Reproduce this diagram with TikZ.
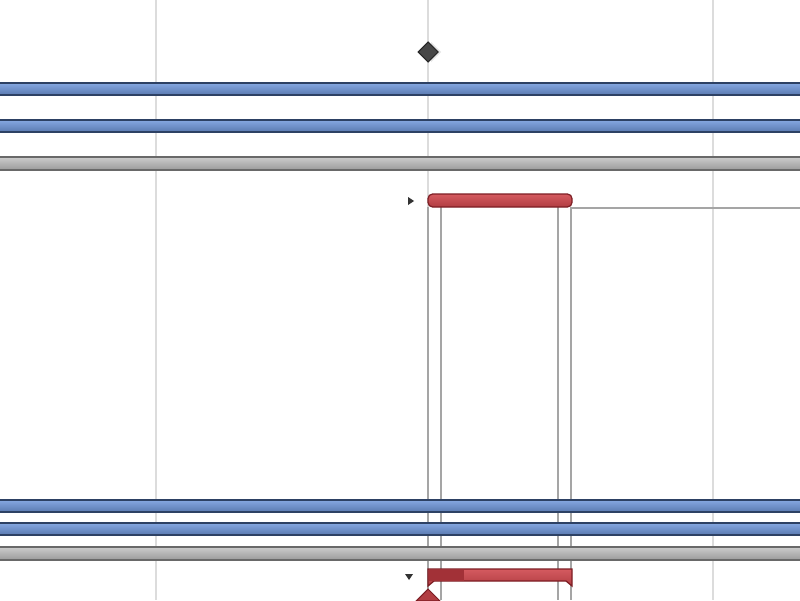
\documentclass[tikz,border=0pt]{standalone}
\usetikzlibrary{calc}
\definecolor{gridgray}{RGB}{220,220,220}
\definecolor{barblue}{RGB}{112,152,220}
\definecolor{barblueline}{RGB}{45,65,100}
\definecolor{bargray}{RGB}{182,182,182}
\definecolor{bargrayline}{RGB}{105,105,105}
\definecolor{barred}{RGB}{208,72,78}
\definecolor{barredline}{RGB}{125,30,36}
\definecolor{linkgray}{RGB}{165,165,165}
\tikzset{
  gridline/.style={gridgray, line width=0.3pt},
  bluebar/.style={draw=barblueline, line width=0.35pt, top color=barblue!85!white, bottom color=barblue!80!black},
  graybar/.style={draw=bargrayline, line width=0.35pt, top color=bargray!70!white, bottom color=bargray!85!black},
  redbar/.style={draw=barredline, line width=0.35pt, top color=barred!90!white, bottom color=barred!85!black},
  linkline/.style={linkgray, line width=0.75pt},
  marker/.style={fill=black!80}
}
\begin{document}
\begin{tikzpicture}[x=0.01cm,y=-0.01cm]
  \useasboundingbox [fill=white] (0,0) rectangle (800,600);
  % grid
  \foreach \gx in {156,428,713}
    \draw [gridline] (\gx,0) -- (\gx,600);
  % links
  \foreach \lx in {428,441,558,571}
    \draw [linkline] (\lx,207) -- (\lx,600);
  \draw [linkline] (571,208) -- (800,208);
  % rows
  \coordinate (r1) at (0,83);
  \coordinate (r2) at (0,120);
  \coordinate (r3) at (0,157);
  \coordinate (r4) at (0,500);
  \coordinate (r5) at (0,523);
  \coordinate (r6) at (0,547);
  \foreach \r in {r1,r2,r4,r5}
    \draw [bluebar] ($ (\r)+(-5,0) $) rectangle ($ (\r)+(805,12) $);
  \foreach \r in {r3,r6}
    \draw [graybar] ($ (\r)+(-5,0) $) rectangle ($ (\r)+(805,13) $);
  % milestone
  \coordinate (ms) at (428,52);
  \fill [black!10] ($ (ms)+(3,-10) $) -- ($ (ms)+(13,0) $) -- ($ (ms)+(3,10) $) -- cycle;
  \draw [fill=black!72, draw=black!85, line width=0.3pt]
    ($ (ms)+(0,-10) $) -- ($ (ms)+(10,0) $) -- ($ (ms)+(0,10) $) -- ($ (ms)+(-10,0) $) -- cycle;
  % task bar
  \coordinate (t1) at (428,194);
  \draw [redbar, rounded corners=1.3pt] (t1) rectangle ($ (t1)+(144,13) $);
  \fill [marker] (408,197) -- (414,201) -- (408,205) -- cycle;
  % summary bar
  \coordinate (s1) at (428,569);
  \draw [redbar] (s1) -- ($ (s1)+(144,0) $) -- ($ (s1)+(144,17) $) -- ($ (s1)+(138,12) $)
    -- ($ (s1)+(6,12) $) -- ($ (s1)+(0,17) $) -- cycle;
  \fill [barredline!55!barred] ($ (s1)+(0.5,0.5) $) rectangle ($ (s1)+(36,11.5) $);
  \fill [marker] (405,574) -- (413,574) -- (409,580) -- cycle;
  % deadline marker
  \draw [fill=barred!85!black, draw=barredline, line width=0.3pt]
    (428,589) -- (440,601) -- (416,601) -- cycle;
\end{tikzpicture}
\end{document}
